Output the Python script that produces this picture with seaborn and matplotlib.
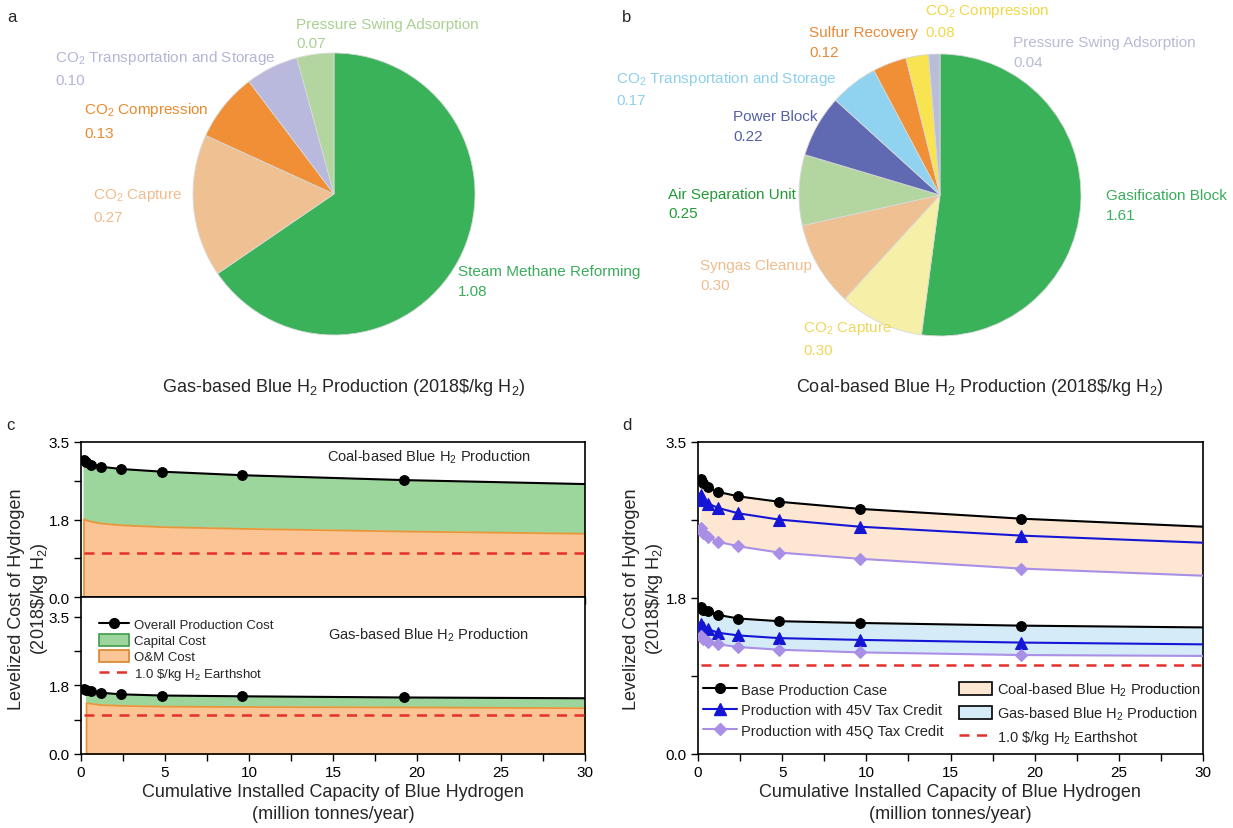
import matplotlib
matplotlib.use("Agg")
import matplotlib.pyplot as plt
import seaborn as sns
from matplotlib.lines import Line2D
from matplotlib.patches import Patch
from matplotlib.ticker import FixedLocator, FormatStrFormatter

# ---------------- data ----------------
gas_pie_labels = ["Steam Methane Reforming", "CO$_2$ Capture", "CO$_2$ Compression",
                  "CO$_2$ Transportation and Storage", "Pressure Swing Adsorption"]
gas_pie_values = [1.08, 0.27, 0.13, 0.10, 0.07]
gas_pie_colors = ["#39b259", "#efc192", "#f08f35", "#b8b9dc", "#b3d6a0"]
gas_text_colors = ["#3aad5c", "#efbd8d", "#eb8a2c", "#b3b5d6", "#a9d192"]

coal_pie_labels = ["Gasification Block", "CO$_2$ Capture", "Syngas Cleanup", "Air Separation Unit",
                   "Power Block", "CO$_2$ Transportation and Storage", "Sulfur Recovery",
                   "CO$_2$ Compression", "Pressure Swing Adsorption"]
coal_pie_values = [1.61, 0.30, 0.30, 0.25, 0.22, 0.17, 0.12, 0.08, 0.04]
coal_pie_colors = ["#39b259", "#f6efa8", "#efc192", "#b3d6a0", "#5f6ab2",
                   "#8fd3f0", "#f08f35", "#f8e351", "#b8bdd8"]
coal_text_colors = ["#3aad5c", "#eed75a", "#efbd8d", "#249a36", "#5560a8",
                    "#8dd0ee", "#e8893a", "#efd84a", "#b8bbd6"]

capacity = [0.15, 0.3, 0.6, 1.2, 2.4, 4.8, 9.6, 19.2, 30]   # last = curve end (no marker)
coal_base = [3.09, 3.04, 2.99, 2.94, 2.89, 2.83, 2.75, 2.64, 2.55]
coal_45v = [2.90, 2.85, 2.81, 2.76, 2.70, 2.63, 2.55, 2.45, 2.37]
coal_45q = [2.54, 2.48, 2.43, 2.38, 2.33, 2.26, 2.19, 2.08, 2.00]
coal_om = [1.77, 1.74, 1.71, 1.67, 1.63, 1.59, 1.55, 1.49, 1.44]
gas_base = [1.65, 1.62, 1.60, 1.56, 1.52, 1.49, 1.47, 1.44, 1.42]
gas_45v = [1.46, 1.43, 1.40, 1.36, 1.33, 1.30, 1.28, 1.25, 1.23]
gas_45q = [1.32, 1.29, 1.26, 1.23, 1.20, 1.17, 1.14, 1.11, 1.10]
gas_om = [None, 1.31, 1.29, 1.26, 1.24, 1.22, 1.21, 1.20, 1.18]  # O&M curve starts at 0.3
earthshot = 1.0

x_major = [0, 5, 10, 15, 20, 25, 30]
x_minor = [2.5, 7.5, 12.5, 17.5, 22.5, 27.5]
y_major = [0.0, 1.75, 3.5]
y_minor = [0.875, 2.625]

# ---------------- style ----------------
sns.set_theme(style="ticks")
plt.rcParams["font.family"] = ["Liberation Sans", "DejaVu Sans"]
plt.rcParams["mathtext.default"] = "regular"
plt.rcParams["axes.unicode_minus"] = False

W, H = 1233, 829
fig = plt.figure(figsize=(W / 100, H / 100), dpi=100)


def box(l, t, r, b):
    return [l / W, 1 - b / H, (r - l) / W, (b - t) / H]


def ftext(x, y, s, **kw):
    fig.text(x / W, 1 - y / H, s, **kw)


# ---------------- pies ----------------
gas_label_xy = [(458, 272, 292), (93, 195, 218), (84, 110, 134), (55, 58, 81), (296, 25, 44)]
coal_label_xy = [(1106, 196, 216), (803, 329, 351), (700, 266, 286), (668, 195, 214),
                 (733, 117, 137), (616, 79, 101), (809, 33, 53), (925, 11, 33), (1013, 43, 63)]


def draw_pie(rect, values, colors, labels, tcolors, xy):
    ax = fig.add_axes(rect)
    ax.pie(values, colors=colors, startangle=90, counterclock=False,
           wedgeprops=dict(edgecolor="#d9d9d9", linewidth=0.6))
    ax.set_xlim(-1, 1)
    ax.set_ylim(-1, 1)
    ax.set_aspect("equal")
    ax.axis("off")
    for lab, v, c, (x, y1, y2) in zip(labels, values, tcolors, xy):
        ftext(x, y1, lab, color=c, fontsize=11, ha="left", va="center")
        ftext(x, y2, f"{v:.2f}", color=c, fontsize=11, ha="left", va="center")
    return ax


draw_pie(box(193, 54, 475, 336), gas_pie_values, gas_pie_colors, gas_pie_labels, gas_text_colors, gas_label_xy)
draw_pie(box(799, 55, 1081, 337), coal_pie_values, coal_pie_colors, coal_pie_labels, coal_text_colors, coal_label_xy)

ftext(344, 388, "Gas-based Blue H$_2$ Production (2018\\$/kg H$_2$)", fontsize=13, ha="center", va="center")
ftext(980, 388, "Coal-based Blue H$_2$ Production (2018\\$/kg H$_2$)", fontsize=13, ha="center", va="center")

for letter, (x, y) in zip("abcd", [(12, 18), (627, 18), (10, 425), (627, 425)]):
    ftext(x, y, letter, fontsize=12, ha="center", va="center")


# ---------------- line panels ----------------
def style_axes(ax, ytop, xlabels=True):
    ax.set_xlim(0, 30)
    ax.set_ylim(0, ytop)
    ax.xaxis.set_major_locator(FixedLocator(x_major))
    ax.xaxis.set_minor_locator(FixedLocator(x_minor))
    ax.yaxis.set_major_locator(FixedLocator(y_major))
    ax.yaxis.set_minor_locator(FixedLocator(y_minor))
    ax.yaxis.set_major_formatter(FormatStrFormatter("%.1f"))
    ax.tick_params(which="both", direction="out", length=5, width=1.0, color="black",
                   labelsize=11, pad=3, labelcolor="black")
    if not xlabels:
        ax.tick_params(axis="x", labelbottom=False)
    for s in ax.spines.values():
        s.set_visible(True)
        s.set_linewidth(1.2)
        s.set_color("black")
    ax.set_facecolor("white")
    ax.grid(False)


marker_idx = list(range(len(capacity) - 1))
red = "#e5302b"
om_face, om_edge = "#fac494", "#e8963a"
cap_face = "#9dd69c"


def line(ax, y, color, marker, ms, z=5):
    sns.lineplot(x=capacity, y=y, ax=ax, color=color, lw=1.5, marker=marker, markersize=ms,
                 markeredgecolor=color, markerfacecolor=color, markeredgewidth=0.8,
                 markevery=marker_idx, sort=False, estimator=None, legend=False, zorder=z)


# panel c top (coal)
axc1 = fig.add_axes(box(81, 443, 585, 598))
axc1.fill_between(capacity, coal_om, coal_base, facecolor=cap_face, edgecolor="none", zorder=1)
axc1.fill_between(capacity, 0, coal_om, facecolor=om_face, edgecolor=om_edge, lw=1.3, zorder=1)
axc1.axhline(earthshot, xmin=capacity[0] / 30, color=red, lw=1.8, dashes=(4, 3), zorder=4)
line(axc1, coal_base, "black", "o", 7)
style_axes(axc1, 3.5, xlabels=False)
axc1.text(0.69, 0.91, "Coal-based Blue H$_2$ Production", transform=axc1.transAxes,
          ha="center", va="center", fontsize=10.5)

# panel c bottom (gas)
axc2 = fig.add_axes(box(81, 598, 585, 755))
cg = capacity[1:]
axc2.fill_between(cg, gas_om[1:], gas_base[1:], facecolor=cap_face, edgecolor="none", zorder=1)
axc2.fill_between(cg, 0, gas_om[1:], facecolor=om_face, edgecolor=om_edge, lw=1.3, zorder=1)
axc2.axhline(earthshot, xmin=capacity[0] / 30, color=red, lw=1.8, dashes=(4, 3), zorder=4)
line(axc2, gas_base, "black", "o", 7)
style_axes(axc2, 4.0)
axc2.text(0.69, 0.76, "Gas-based Blue H$_2$ Production", transform=axc2.transAxes,
          ha="center", va="center", fontsize=10.5)

handles_c = [
    Line2D([], [], color="black", lw=1.5, marker="o", markersize=7),
    Patch(facecolor=cap_face, edgecolor="#3f9b4c", lw=1.2),
    Patch(facecolor=om_face, edgecolor="#d8852d", lw=1.2),
    Line2D([], [], color=red, lw=1.8, dashes=(4, 3)),
]
labels_c = ["Overall Production Cost", "Capital Cost", "O&M Cost", "1.0 \\$/kg H$_2$ Earthshot"]
axc2.legend(handles_c, labels_c, loc="upper left", bbox_to_anchor=(0.035, 0.87), frameon=False,
            fontsize=9.5, handlelength=2.3, handleheight=1.0, handletextpad=0.35,
            labelspacing=0.22, borderpad=0, borderaxespad=0)

# panel d
axd = fig.add_axes(box(698, 443, 1203, 755))
coal_fill = "#fde7d2"
gas_fill = "#d5ecf8"
axd.fill_between(capacity, coal_45q, coal_base, facecolor=coal_fill, edgecolor="none", zorder=1)
axd.fill_between(capacity, gas_45q, gas_base, facecolor=gas_fill, edgecolor="none", zorder=1)
axd.axhline(earthshot, xmin=capacity[0] / 30, color=red, lw=1.8, dashes=(4, 3), zorder=4)
blue = "#1515d6"
lav = "#a98fe6"
line(axd, coal_base, "black", "o", 7)
line(axd, coal_45v, blue, "^", 8)
line(axd, coal_45q, lav, "D", 6.5)
line(axd, gas_base, "black", "o", 7)
line(axd, gas_45v, blue, "^", 8)
line(axd, gas_45q, lav, "D", 6.5)
style_axes(axd, 3.5)

handles_d = [
    Line2D([], [], color="black", lw=1.5, marker="o", markersize=7),
    Line2D([], [], color=blue, lw=1.5, marker="^", markersize=8),
    Line2D([], [], color=lav, lw=1.5, marker="D", markersize=6.5),
    Patch(facecolor=coal_fill, edgecolor="black", lw=1.2),
    Patch(facecolor=gas_fill, edgecolor="black", lw=1.2),
    Line2D([], [], color=red, lw=1.8, dashes=(4, 3)),
]
labels_d = ["Base Production Case", "Production with 45V Tax Credit", "Production with 45Q Tax Credit",
            "Coal-based Blue H$_2$ Production", "Gas-based Blue H$_2$ Production",
            "1.0 \\$/kg H$_2$ Earthshot"]
axd.legend(handles_d, labels_d, loc="upper left", bbox_to_anchor=(0.01, 0.235), ncol=2, frameon=False,
           fontsize=10.5, handlelength=2.3, handleheight=1.0, handletextpad=0.3,
           labelspacing=0.42, columnspacing=1.05, borderpad=0, borderaxespad=0)

# axis labels
ylab = "Levelized Cost of Hydrogen\n(2018\\$/kg H$_2$)"
ftext(29, 599, ylab, fontsize=13, rotation=90, ha="center", va="center", linespacing=1.25)
ftext(644, 599, ylab, fontsize=13, rotation=90, ha="center", va="center", linespacing=1.25)
for cx in (333, 950):
    ftext(cx, 793, "Cumulative Installed Capacity of Blue Hydrogen", fontsize=13, ha="center", va="center")
    ftext(cx, 815, "(million tonnes/year)", fontsize=13, ha="center", va="center")

fig.savefig("out.png", dpi=100, facecolor="white")
